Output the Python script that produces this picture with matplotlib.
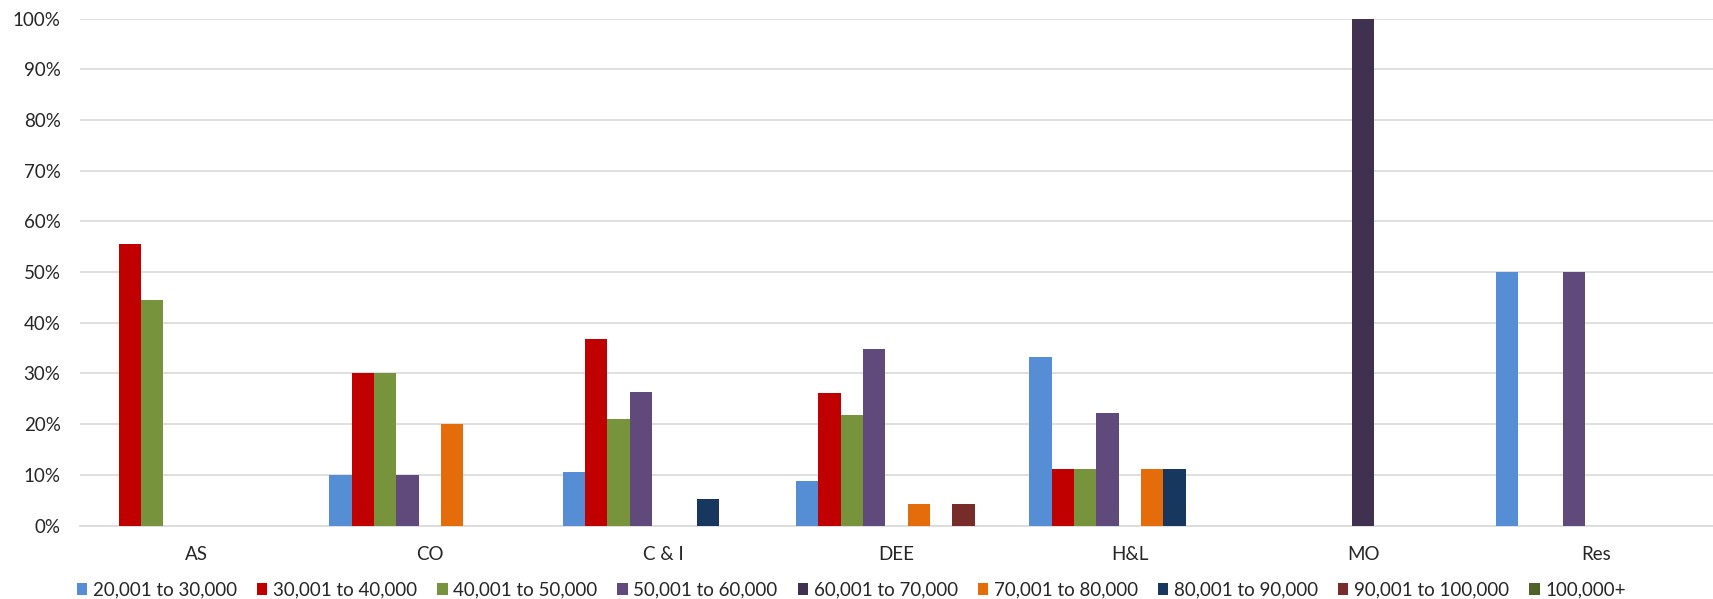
import numpy as np
import matplotlib
matplotlib.use("Agg")
import matplotlib.pyplot as plt
from matplotlib.ticker import PercentFormatter

plt.rcParams['font.family'] = ['Lato', 'DejaVu Sans']

# departments and salary bands
categories = ["AS", "CO", "C & I", "DEE", "H&L", "MO", "Res"]
bands = ["20,001 to 30,000", "30,001 to 40,000", "40,001 to 50,000",
         "50,001 to 60,000", "60,001 to 70,000", "70,001 to 80,000",
         "80,001 to 90,000", "90,001 to 100,000", "100,000+"]

# share of staff in each band, per department (%)
band_20_30 = [0, 10, 10.5, 8.7, 33.3, 0, 50]
band_30_40 = [55.6, 30, 36.8, 26.1, 11.1, 0, 0]
band_40_50 = [44.4, 30, 21.1, 21.7, 11.1, 0, 0]
band_50_60 = [0, 10, 26.3, 34.8, 22.2, 0, 50]
band_60_70 = [0, 0, 0, 0, 0, 100, 0]
band_70_80 = [0, 20, 0, 4.3, 11.1, 0, 0]
band_80_90 = [0, 0, 5.3, 0, 11.1, 0, 0]
band_90_100 = [0, 0, 0, 4.3, 0, 0, 0]
band_100_plus = [0, 0, 0, 0, 0, 0, 0]

series = [band_20_30, band_30_40, band_40_50, band_50_60, band_60_70,
          band_70_80, band_80_90, band_90_100, band_100_plus]
colors = ["#558ED5", "#C00000", "#77933C", "#604A7B", "#403151",
          "#E46C0A", "#17375E", "#772C2A", "#4F6228"]

fig = plt.figure(figsize=(17.13, 5.99), dpi=100)
ax = fig.add_axes([0.0467, 0.1227, 0.9533, 0.8463])

x = np.arange(len(categories))
width = 0.0957
n = len(series)
for i, (vals, col, lab) in enumerate(zip(series, colors, bands)):
    offset = (i - (n - 1) / 2) * width
    ax.bar(x + offset, vals, width, color=col, label=lab, zorder=3)

ax.set_xlim(-0.5, len(categories) - 0.5)
ax.set_ylim(0, 100)
ax.set_yticks(np.arange(0, 101, 10))
ax.yaxis.set_major_formatter(PercentFormatter(decimals=0))
ax.set_xticks(x)
ax.set_xticklabels(categories)

ax.grid(axis='y', color='#D9D9D9', linewidth=1.2, zorder=0)
for s in ['top', 'right', 'left']:
    ax.spines[s].set_visible(False)
ax.spines['bottom'].set_color('#D9D9D9')
ax.spines['bottom'].set_linewidth(1.2)
ax.tick_params(axis='both', length=0, labelsize=13.5, colors='#262626')
ax.tick_params(axis='y', pad=14)
ax.tick_params(axis='x', pad=15)

fig.legend(loc='center', bbox_to_anchor=(0.497, 0.015), ncol=9, frameon=False,
           fontsize=13.5, handlelength=0.55, handleheight=0.55,
           handletextpad=0.3, columnspacing=1.07, labelcolor='#262626')

fig.savefig("out.png", dpi=100)
